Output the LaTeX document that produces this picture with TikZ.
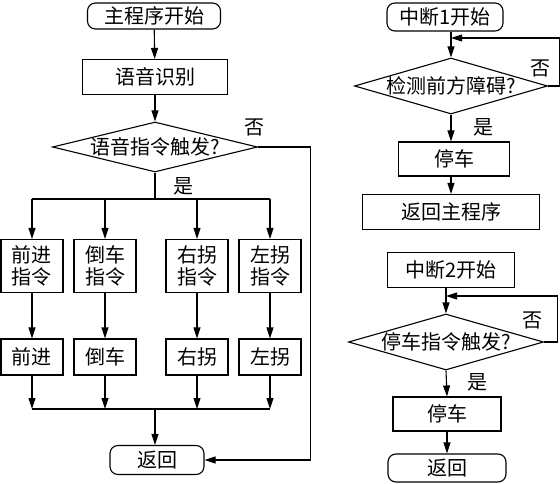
\documentclass[tikz,border=0pt]{standalone}
\usepackage{fontspec}
\setmainfont{Noto Sans CJK SC}
\usetikzlibrary{shapes.geometric,arrows.meta}

\begin{document}
\begin{tikzpicture}[x=1pt, y=-1pt, line width=1.1pt,
  font=\fontsize{20}{22}\selectfont,
  termbox/.style={draw, rounded corners=8pt, inner sep=0pt},
  procbox/.style={draw, inner sep=0pt, align=center},
  decbox/.style={draw, diamond, inner sep=0pt},
  arr/.style={-{Triangle[length=11pt,width=7pt]}},
  lbl/.style={inner sep=0pt}]
\newcommand{\dtext}[1]{\makebox[0pt]{#1}}% diamond text, size set by min width/height
\useasboundingbox (0,0) rectangle (560,484);
% main program, left column
\node[termbox, minimum width=133pt, minimum height=26pt] (start) at (154,16) {主程序开始};
\node[procbox, minimum width=145pt, minimum height=35pt] (recog) at (155,77) {语音识别};
\node[decbox, minimum width=205pt, minimum height=50pt] (dec) at (155,147) {\dtext{语音指令触发?}};
\node[lbl] (no) at (254,127) {否};
\node[lbl] (yes) at (183,186) {是};
\foreach \n/\x in {fwd/32, rev/105, rt/197, lt/270} {
  \node[procbox, minimum width=62pt, minimum height=53pt] (\n cmd) at (\x,266) {};
  \node[procbox, minimum width=62pt, minimum height=36pt] (\n act) at (\x,357) {};
}
\node[align=center] at (fwdcmd) {前进\\指令};
\node[align=center] at (revcmd) {倒车\\指令};
\node[align=center] at (rtcmd) {右拐\\指令};
\node[align=center] at (ltcmd) {左拐\\指令};
\node at (fwdact) {前进};
\node at (revact) {倒车};
\node at (rtact) {右拐};
\node at (ltact) {左拐};
\node[termbox, minimum width=94pt, minimum height=29pt] (ret) at (157,460) {返回};
\coordinate (split) at (155,199);
\coordinate (merge) at (155,409);
\draw[arr] (start) -- (recog);
\draw[arr] (recog) -- (dec);
\draw (dec.south) -- (split);
\draw (split -| fwdcmd) -- (split -| ltcmd);
\foreach \n in {fwd, rev, rt, lt} {
  \draw[arr] (split -| \n cmd) -- (\n cmd.north);
  \draw[arr] (\n cmd) -- (\n act);
  \draw[arr] (\n act.south) -- (\n act.south |- merge);
}
\draw (merge -| fwdact) -- (merge -| ltact);
\draw[arr] (merge) -- (merge |- ret.north);
\draw[arr] (dec.east) -- ++(52.5,0) |- (ret.east);
% interrupt 1, right column top
\node[termbox, minimum width=116pt, minimum height=28pt] (intA) at (445,17) {中断1开始};
\node[decbox, minimum width=193pt, minimum height=56pt] (decA) at (451,86) {\dtext{检测前方障碍?}};
\node[lbl] (noA) at (540,68) {否};
\node[lbl] (yesA) at (483,127) {是};
\node[procbox, minimum width=111pt, minimum height=34pt] (stopA) at (454,159) {停车};
\node[procbox, minimum width=177pt, minimum height=35pt] (back) at (451,212) {返回主程序};
\coordinate (loopA) at (451,38);
\draw[arr] (intA.south -| decA) -- (decA.north);
\draw[arr] (decA.east) -- ++(11,0) |- (loopA);
\draw[arr] (decA.south) -- (decA.south |- stopA.north);
\draw[arr] (stopA.south -| back) -- (back.north);
% interrupt 2, right column bottom
\node[procbox, minimum width=127pt, minimum height=35pt] (intB) at (451,270) {中断2开始};
\node[decbox, minimum width=195pt, minimum height=56pt] (decB) at (446,342) {\dtext{停车指令触发?}};
\node[lbl] (noB) at (532,320) {否};
\node[lbl] (yesB) at (477,382) {是};
\node[procbox, minimum width=108pt, minimum height=34pt] (stopB) at (447,414) {停车};
\node[termbox, minimum width=118pt, minimum height=28pt] (retB) at (447,468) {返回};
\coordinate (loopB) at (446,296);
\draw[arr] (intB.south -| decB) -- (decB.north);
\draw[arr] (decB.east) -- ++(13,0) |- (loopB);
\draw[arr] (decB.south) -- (stopB.north);
\draw[arr] (stopB) -- (retB);
\end{tikzpicture}
\end{document}
